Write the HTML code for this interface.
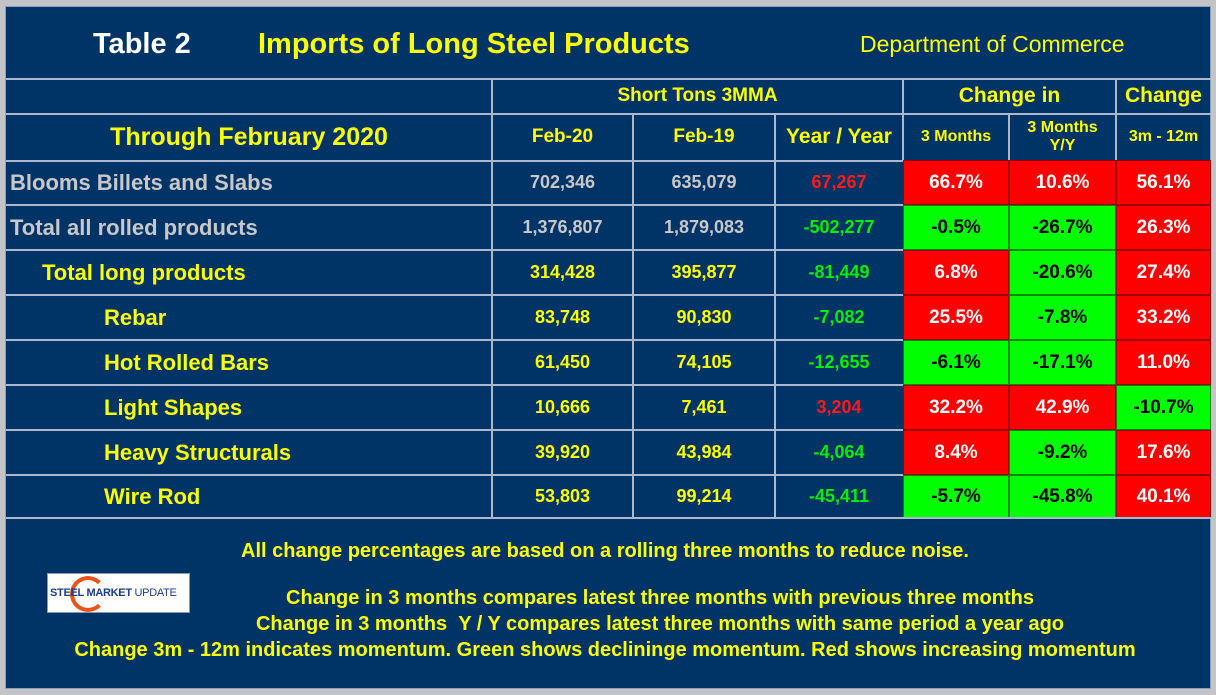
<!DOCTYPE html>
<html><head><meta charset="utf-8">
<style>
body{margin:0;width:1216px;height:695px;background:#c4c4c4;overflow:hidden;font-family:"Liberation Sans",Arial,sans-serif;font-weight:bold;position:relative}
#frame{position:absolute;left:5px;top:6px;width:1206px;height:683px;background:#003366;border:1px solid #8aa0c0;box-sizing:border-box}
.a{position:absolute;box-sizing:border-box}
.c{display:flex;align-items:center;justify-content:center;text-align:center}
.n{display:inline-block;white-space:nowrap}
.hl{position:absolute;height:2px;background:#a9b8cc}
.vl{position:absolute;width:2px;background:#a9b8cc}
.y{color:#ffff00}
</style></head><body>
<div id="frame"></div>
<div class="a" style="left:93px;top:28px;color:#fff;font-size:29px"><span class="n">Table 2</span></div>
<div class="a y" style="left:258px;top:28px;font-size:29px"><span class="n">Imports of Long Steel Products</span></div>
<div class="a y" style="left:860px;top:31px;font-size:23px;font-weight:normal"><span class="n">Department of Commerce</span></div>
<div id="grid"></div>
<div class="a" style="left:47px;top:573px;width:143px;height:40px;background:#fff;border:1px solid #8899aa;overflow:hidden">
<div class="a" style="left:22px;top:2px;width:36px;height:36px;border-radius:50%;border:4px solid #e8541c;border-right-color:transparent;"></div>
<div class="a" style="left:2px;top:13px;font-size:11px;color:#1a3e8c;white-space:nowrap;letter-spacing:-0.3px">STEEL MARKET <span style="font-weight:normal">UPDATE</span></div>
</div>
<div class="a y c" style="left:100px;top:538px;width:1010px;height:26px;font-size:20px"><span class="n">All change percentages are based on a rolling three months to reduce noise.</span></div>
<div class="a y c" style="left:150px;top:585px;width:1020px;height:26px;font-size:20px"><span class="n">Change in 3 months compares latest three months with previous three months</span></div>
<div class="a y c" style="left:150px;top:611px;width:1020px;height:26px;font-size:20px"><span class="n">Change in 3 months &nbsp;Y / Y compares latest three months with same period a year ago</span></div>
<div class="a y c" style="left:20px;top:637px;width:1170px;height:26px;font-size:20px"><span class="n">Change 3m - 12m indicates momentum. Green shows declininge momentum. Red shows increasing momentum</span></div>
<script>
const labels=["Blooms Billets and Slabs","Total all rolled products","Total long products","Rebar","Hot Rolled Bars","Light Shapes","Heavy Structurals","Wire Rod"];
const feb20=["702,346","1,376,807","314,428","83,748","61,450","10,666","39,920","53,803"];
const feb19=["635,079","1,879,083","395,877","90,830","74,105","7,461","43,984","99,214"];
const yoy=["67,267","-502,277","-81,449","-7,082","-12,655","3,204","-4,064","-45,411"];
const chg3m=[66.7,-0.5,6.8,25.5,-6.1,32.2,8.4,-5.7];
const chgYY=[10.6,-26.7,-20.6,-7.8,-17.1,42.9,-9.2,-45.8];
const chg312=[56.1,26.3,27.4,33.2,11.0,-10.7,17.6,40.1];
const indents=[10,10,42,104,104,104,104,104];
const labelColors=["#c8c8c8","#c8c8c8","#ffff00","#ffff00","#ffff00","#ffff00","#ffff00","#ffff00"];
const g=document.getElementById('grid');
const colX=[6,492,633,775,903,1009,1116,1211];
const rowY=[160,205,250,295,340,385,430,475,518];
function mk(cls,style,html,name){const d=document.createElement('div');d.className=cls;d.style.cssText=style;d.innerHTML=html;


g.appendChild(d);return d;}
mk('a c y','left:492px;top:78px;width:411px;height:36px;font-size:19px','<span class="n">Short Tons 3MMA</span>','header-short-tons');
mk('a c y','left:903px;top:78px;width:213px;height:36px;font-size:21px','<span class="n">Change in</span>','header-change-in');
mk('a c y','left:1116px;top:78px;width:95px;height:36px;font-size:21px','<span class="n">Change</span>','header-change');
mk('a c y','left:6px;top:114px;width:486px;height:46px;font-size:25px','<span class="n">Through February 2020</span>','header-period');
const hdr=["Feb-20","Feb-19","Year / Year","3 Months","3 Months<br>Y/Y","3m - 12m"];
const hsz=[19,19,21,16,16,16];
for(let i=0;i<6;i++){mk('a c y',`left:${colX[i+1]}px;top:114px;width:${colX[i+2]-colX[i+1]}px;height:46px;font-size:${hsz[i]}px;line-height:1.1`,`<span class="n">${hdr[i]}</span>`,'column-header-'+i);}
const pct=v=>v.toFixed(1)+'%';
for(let r=0;r<labels.length;r++){
 const y=rowY[r],h=rowY[r+1]-y;
 mk('a','left:'+indents[r]+'px;top:'+y+'px;height:'+h+'px;display:flex;align-items:center;font-size:22px;color:'+labelColors[r],'<span class="n">'+labels[r]+'</span>','row-label');
 const vals=[feb20[r],feb19[r],yoy[r]];
 for(let c=0;c<3;c++){
  let col='#ffff00'; if(r<2&&c<2) col='#c8c8c8';
  if(c==2) col=yoy[r].startsWith('-')?'#00ee00':'#ff1a1a';
  mk('a c',`left:${colX[c+1]}px;top:${y}px;width:${colX[c+2]-colX[c+1]}px;height:${h}px;font-size:18px;color:${col}`,'<span class="n">'+vals[c]+'</span>','value-cell');
 }
 const pc=[chg3m[r],chgYY[r],chg312[r]];
 for(let c=0;c<3;c++){
  const neg=pc[c]<0;
  mk('a c',`left:${colX[c+4]}px;top:${y}px;width:${colX[c+5]-colX[c+4]}px;height:${h}px;font-size:19px;background:${neg?'#00ff00':'#ff0000'};color:${neg?'#000':'#fff'};border:1px solid ${neg?'#008800':'#990000'}`,'<span class="n">'+pct(pc[c])+'</span>','change-cell');
 }
}
const hls=[[6,78,1205],[6,113,1205],[6,160,897]];
for(let i=1;i<rowY.length;i++) hls.push([6,rowY[i]-1,897]);
hls.push([6,517,1205]);
hls.forEach(l=>mk('hl',`left:${l[0]}px;top:${l[1]}px;width:${l[2]}px`,'','grid-line'));
mk('vl','left:491px;top:78px;height:440px','','grid-line');
mk('vl','left:632px;top:113px;height:405px','','grid-line');
mk('vl','left:774px;top:113px;height:405px','','grid-line');
mk('vl','left:902px;top:78px;height:82px','','grid-line');
mk('vl','left:1008px;top:113px;height:47px','','grid-line');
mk('vl','left:1115px;top:78px;height:82px','','grid-line');
</script>
</body></html>
